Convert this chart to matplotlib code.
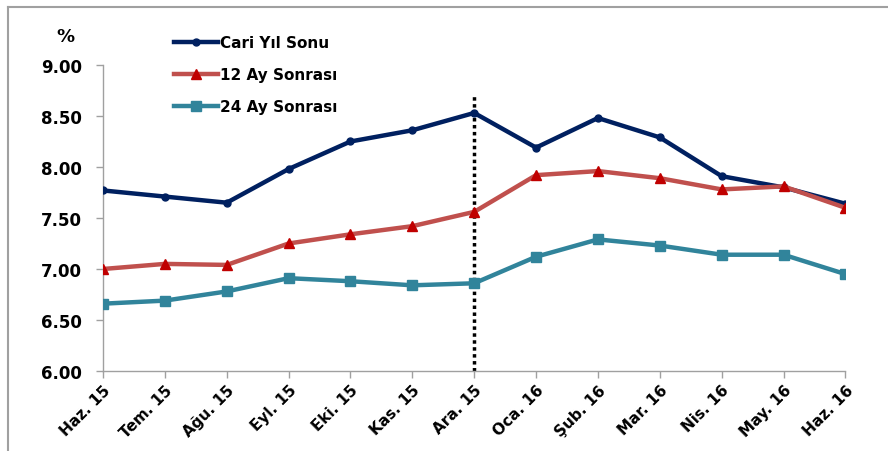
import matplotlib
matplotlib.use("Agg")
import matplotlib.pyplot as plt
from matplotlib.lines import Line2D

# Veriler
aylar = ["Haz. 15", "Tem. 15", "Ağu. 15", "Eyl. 15", "Eki. 15", "Kas. 15", "Ara. 15",
         "Oca. 16", "Şub. 16", "Mar. 16", "Nis. 16", "May. 16", "Haz. 16"]
cari_yil_sonu = [7.77, 7.71, 7.65, 7.98, 8.25, 8.36, 8.53, 8.19, 8.48, 8.29, 7.91, 7.80, 7.64]
ay_12_sonrasi = [7.00, 7.05, 7.04, 7.25, 7.34, 7.42, 7.56, 7.92, 7.96, 7.89, 7.78, 7.81, 7.60]
ay_24_sonrasi = [6.66, 6.69, 6.78, 6.91, 6.88, 6.84, 6.86, 7.12, 7.29, 7.23, 7.14, 7.14, 6.95]
y_ticks = [6.00, 6.50, 7.00, 7.50, 8.00, 8.50, 9.00]
dikey_cizgi_ay = "Ara. 15"

plt.rcParams['font.family'] = ['DejaVu Sans']
plt.rcParams['font.weight'] = 'bold'

fig = plt.figure(figsize=(8.88, 4.52), dpi=100)
ax = fig.add_axes([0.116, 0.177, 0.836, 0.677])

x = list(range(len(aylar)))

ax.plot(x, cari_yil_sonu, color='#002060', lw=3.2, marker='o', ms=5,
        label='Cari Yıl Sonu', zorder=3)
ax.plot(x, ay_12_sonrasi, color='#C0504D', lw=3.2, marker='^', ms=7,
        mfc='#C00000', mec='#C00000', label='12 Ay Sonrası', zorder=3)
ax.plot(x, ay_24_sonrasi, color='#31849B', lw=3.2, marker='s', ms=7.5,
        label='24 Ay Sonrası', zorder=3)

# Ara. 15 dikey noktalı çizgi
xi = aylar.index(dikey_cizgi_ay)
ax.plot([xi, xi], [6.0, 8.70], color='black', lw=2.5, ls=(0, (1, 1)), zorder=2)

ax.set_xlim(0, len(aylar) - 1)
ax.set_ylim(6.0, 9.0)
ax.set_yticks(y_ticks)
ax.set_yticklabels([f"{v:.2f}" for v in y_ticks], fontsize=12, fontweight='bold')
ax.set_xticks(x)
ax.set_xticklabels(aylar, rotation=45, ha='right', rotation_mode='anchor',
                   fontsize=11, fontweight='bold')

for s in ['top', 'right']:
    ax.spines[s].set_visible(False)
for s in ['left', 'bottom']:
    ax.spines[s].set_color('#A0A0A0')
    ax.spines[s].set_linewidth(1)
ax.tick_params(axis='both', color='#A0A0A0', length=5, width=1)
ax.tick_params(axis='y', pad=10)
ax.tick_params(axis='x', pad=3)

fig.text(65 / 888, 1 - 37 / 452, '%', fontsize=13, fontweight='bold',
         ha='center', va='center')

ax.legend(loc='upper left', bbox_to_anchor=(0.18, 0.95),
          bbox_transform=fig.transFigure, frameon=False,
          handlelength=2.9, handletextpad=0.15, labelspacing=1.1,
          prop={'weight': 'bold', 'size': 11})

# Grafik çerçevesi (üst ve sol)
fig.add_artist(Line2D([0.009, 1.0], [0.982, 0.982], color='#A0A0A0', lw=1.5,
                      transform=fig.transFigure))
fig.add_artist(Line2D([0.009, 0.009], [0.0, 0.982], color='#A0A0A0', lw=1.5,
                      transform=fig.transFigure))

fig.savefig('out.png', dpi=100)
